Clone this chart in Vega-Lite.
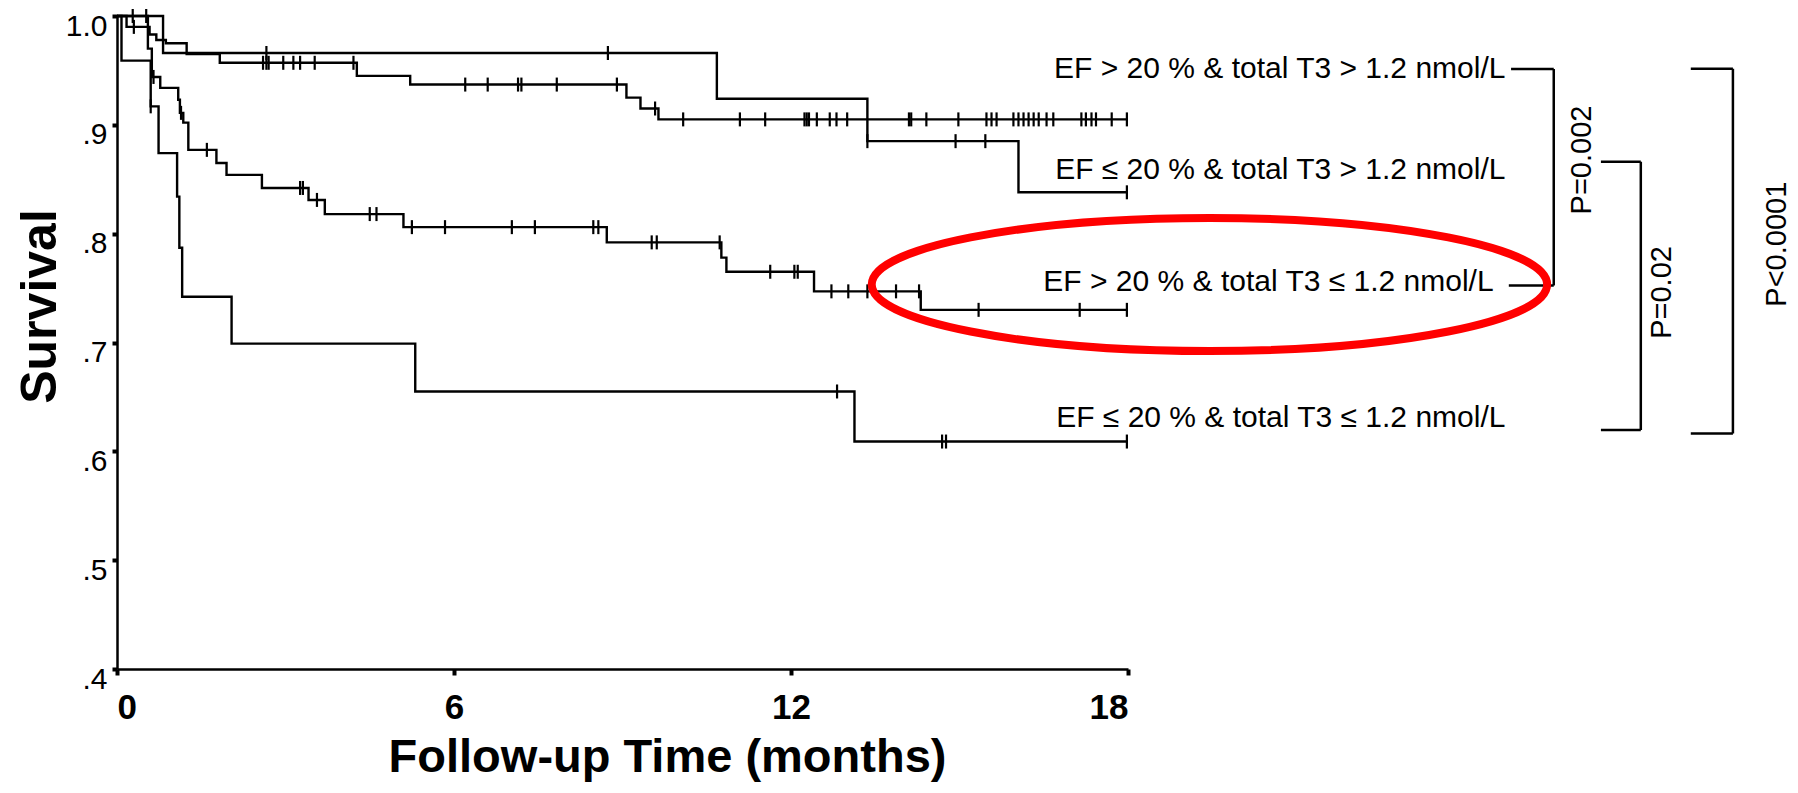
{
  "$schema": "https://vega.github.io/schema/vega-lite/v6.json",
  "width": 1011,
  "height": 653,
  "autosize": {"type": "none"},
  "padding": {"left": 117, "top": 16, "right": 670, "bottom": 124},
  "background": "white",
  "config": {
    "view": {"stroke": null},
    "font": "Liberation Sans",
    "axis": {"grid": false, "domainColor": "black", "tickColor": "black", "labelColor": "black", "titleColor": "black", "labelFont": "Liberation Sans", "titleFont": "Liberation Sans"}
  },
  "datasets": {
    "curves": [
      {"g": "A", "t": 0, "s": 1.0}, {"g": "A", "t": 0.17, "s": 0.99}, {"g": "A", "t": 0.58, "s": 0.983}, {"g": "A", "t": 0.7, "s": 0.978}, {"g": "A", "t": 0.87, "s": 0.975}, {"g": "A", "t": 1.24, "s": 0.965}, {"g": "A", "t": 1.83, "s": 0.957}, {"g": "A", "t": 4.27, "s": 0.945}, {"g": "A", "t": 5.22, "s": 0.937}, {"g": "A", "t": 9.07, "s": 0.925}, {"g": "A", "t": 9.32, "s": 0.915}, {"g": "A", "t": 9.64, "s": 0.905}, {"g": "A", "t": 18, "s": 0.905},
      {"g": "B", "t": 0, "s": 1.0}, {"g": "B", "t": 0.82, "s": 0.966}, {"g": "B", "t": 10.68, "s": 0.924}, {"g": "B", "t": 13.36, "s": 0.885}, {"g": "B", "t": 16.05, "s": 0.838}, {"g": "B", "t": 18, "s": 0.838},
      {"g": "C", "t": 0, "s": 1.0}, {"g": "C", "t": 0.55, "s": 0.97}, {"g": "C", "t": 0.62, "s": 0.944}, {"g": "C", "t": 0.77, "s": 0.934}, {"g": "C", "t": 1.09, "s": 0.923}, {"g": "C", "t": 1.12, "s": 0.911}, {"g": "C", "t": 1.18, "s": 0.902}, {"g": "C", "t": 1.27, "s": 0.877}, {"g": "C", "t": 1.77, "s": 0.865}, {"g": "C", "t": 1.95, "s": 0.854}, {"g": "C", "t": 2.58, "s": 0.842}, {"g": "C", "t": 3.41, "s": 0.831}, {"g": "C", "t": 3.7, "s": 0.818}, {"g": "C", "t": 5.1, "s": 0.806}, {"g": "C", "t": 8.72, "s": 0.792}, {"g": "C", "t": 10.76, "s": 0.778}, {"g": "C", "t": 10.85, "s": 0.765}, {"g": "C", "t": 12.41, "s": 0.747}, {"g": "C", "t": 14.31, "s": 0.73}, {"g": "C", "t": 18, "s": 0.73},
      {"g": "D", "t": 0, "s": 1.0}, {"g": "D", "t": 0.08, "s": 0.959}, {"g": "D", "t": 0.6, "s": 0.917}, {"g": "D", "t": 0.74, "s": 0.874}, {"g": "D", "t": 1.07, "s": 0.834}, {"g": "D", "t": 1.11, "s": 0.787}, {"g": "D", "t": 1.16, "s": 0.742}, {"g": "D", "t": 2.04, "s": 0.699}, {"g": "D", "t": 5.31, "s": 0.655}, {"g": "D", "t": 13.13, "s": 0.609}, {"g": "D", "t": 18, "s": 0.609}
    ],
    "censors": [
      {"g": "B", "t": 0.28, "s": 1.0}, {"g": "B", "t": 0.52, "s": 1.0}, {"g": "B", "t": 2.66, "s": 0.966}, {"g": "B", "t": 8.74, "s": 0.966}, {"g": "B", "t": 13.36, "s": 0.885}, {"g": "B", "t": 14.93, "s": 0.885}, {"g": "B", "t": 15.46, "s": 0.885}, {"g": "B", "t": 17.98, "s": 0.838},
      {"g": "A", "t": 0.3, "s": 0.99}, {"g": "A", "t": 2.6, "s": 0.957}, {"g": "A", "t": 2.66, "s": 0.957}, {"g": "A", "t": 2.7, "s": 0.957}, {"g": "A", "t": 2.96, "s": 0.957}, {"g": "A", "t": 3.14, "s": 0.957}, {"g": "A", "t": 3.26, "s": 0.957}, {"g": "A", "t": 3.52, "s": 0.957}, {"g": "A", "t": 4.21, "s": 0.957}, {"g": "A", "t": 6.2, "s": 0.937}, {"g": "A", "t": 6.6, "s": 0.937}, {"g": "A", "t": 7.14, "s": 0.937}, {"g": "A", "t": 7.2, "s": 0.937}, {"g": "A", "t": 7.83, "s": 0.937}, {"g": "A", "t": 8.9, "s": 0.937}, {"g": "A", "t": 9.58, "s": 0.915}, {"g": "A", "t": 10.08, "s": 0.905}, {"g": "A", "t": 11.09, "s": 0.905}, {"g": "A", "t": 11.54, "s": 0.905}, {"g": "A", "t": 12.24, "s": 0.905}, {"g": "A", "t": 12.28, "s": 0.905}, {"g": "A", "t": 12.32, "s": 0.905}, {"g": "A", "t": 12.46, "s": 0.905}, {"g": "A", "t": 12.69, "s": 0.905}, {"g": "A", "t": 12.81, "s": 0.905}, {"g": "A", "t": 13.0, "s": 0.905}, {"g": "A", "t": 14.1, "s": 0.905}, {"g": "A", "t": 14.14, "s": 0.905}, {"g": "A", "t": 14.41, "s": 0.905}, {"g": "A", "t": 14.98, "s": 0.905}, {"g": "A", "t": 15.48, "s": 0.905}, {"g": "A", "t": 15.57, "s": 0.905}, {"g": "A", "t": 15.66, "s": 0.905}, {"g": "A", "t": 15.96, "s": 0.905}, {"g": "A", "t": 16.05, "s": 0.905}, {"g": "A", "t": 16.14, "s": 0.905}, {"g": "A", "t": 16.23, "s": 0.905}, {"g": "A", "t": 16.32, "s": 0.905}, {"g": "A", "t": 16.41, "s": 0.905}, {"g": "A", "t": 16.55, "s": 0.905}, {"g": "A", "t": 16.67, "s": 0.905}, {"g": "A", "t": 17.17, "s": 0.905}, {"g": "A", "t": 17.25, "s": 0.905}, {"g": "A", "t": 17.35, "s": 0.905}, {"g": "A", "t": 17.43, "s": 0.905}, {"g": "A", "t": 17.71, "s": 0.905}, {"g": "A", "t": 17.98, "s": 0.905},
      {"g": "C", "t": 0.65, "s": 0.944}, {"g": "C", "t": 1.14, "s": 0.911}, {"g": "C", "t": 1.6, "s": 0.877}, {"g": "C", "t": 3.26, "s": 0.842}, {"g": "C", "t": 3.31, "s": 0.842}, {"g": "C", "t": 3.56, "s": 0.831}, {"g": "C", "t": 4.5, "s": 0.818}, {"g": "C", "t": 4.62, "s": 0.818}, {"g": "C", "t": 5.25, "s": 0.806}, {"g": "C", "t": 5.84, "s": 0.806}, {"g": "C", "t": 7.03, "s": 0.806}, {"g": "C", "t": 7.44, "s": 0.806}, {"g": "C", "t": 8.48, "s": 0.806}, {"g": "C", "t": 8.57, "s": 0.806}, {"g": "C", "t": 9.52, "s": 0.792}, {"g": "C", "t": 9.61, "s": 0.792}, {"g": "C", "t": 10.73, "s": 0.792}, {"g": "C", "t": 11.63, "s": 0.765}, {"g": "C", "t": 12.06, "s": 0.765}, {"g": "C", "t": 12.12, "s": 0.765}, {"g": "C", "t": 12.72, "s": 0.747}, {"g": "C", "t": 13.02, "s": 0.747}, {"g": "C", "t": 13.36, "s": 0.747}, {"g": "C", "t": 13.87, "s": 0.747}, {"g": "C", "t": 14.28, "s": 0.747}, {"g": "C", "t": 15.34, "s": 0.73}, {"g": "C", "t": 17.14, "s": 0.73}, {"g": "C", "t": 17.98, "s": 0.73},
      {"g": "D", "t": 0.6, "s": 0.917}, {"g": "D", "t": 12.82, "s": 0.655}, {"g": "D", "t": 14.69, "s": 0.609}, {"g": "D", "t": 14.76, "s": 0.609}, {"g": "D", "t": 17.98, "s": 0.609}
    ],
    "labels": [
      {"label": "EF > 20 % & total T3 > 1.2 nmol/L", "t": 24.72, "s": 0.9515},
      {"label": "EF ≤ 20 % & total T3 > 1.2 nmol/L", "t": 24.72, "s": 0.8588},
      {"label": "EF > 20 % & total T3 ≤ 1.2 nmol/L", "t": 24.51, "s": 0.7556},
      {"label": "EF ≤ 20 % & total T3 ≤ 1.2 nmol/L", "t": 24.72, "s": 0.6302}
    ],
    "brackets": [
      {"t": 24.82, "s": 0.9513, "t2": 25.58, "s2": 0.9513},
      {"t": 25.58, "s": 0.9513, "t2": 25.58, "s2": 0.7524},
      {"t": 24.78, "s": 0.7524, "t2": 25.58, "s2": 0.7524},
      {"t": 26.42, "s": 0.8661, "t2": 27.13, "s2": 0.8661},
      {"t": 27.13, "s": 0.8661, "t2": 27.13, "s2": 0.6196},
      {"t": 26.42, "s": 0.6196, "t2": 27.13, "s2": 0.6196},
      {"t": 28.02, "s": 0.9515, "t2": 28.77, "s2": 0.9515},
      {"t": 28.77, "s": 0.9515, "t2": 28.77, "s2": 0.6165},
      {"t": 28.02, "s": 0.6165, "t2": 28.77, "s2": 0.6165}
    ],
    "plabels": [
      {"label": "P=0.002", "t": 26.08, "s": 0.8677},
      {"label": "P=0.02", "t": 27.5, "s": 0.746},
      {"label": "P<0.0001", "t": 29.55, "s": 0.7903}
    ],
    "highlight": [
      {"t": 19.45, "s": 0.7533}
    ]
  },
  "encoding": {
    "x": {
      "field": "t", "type": "quantitative",
      "scale": {"domain": [0, 18], "nice": false, "zero": false},
      "axis": {
        "values": [0, 6, 12, 18], "format": "d",
        "domainWidth": 2.5, "tickWidth": 4, "tickSize": 6,
        "labelFontSize": 35, "labelFontWeight": "bold", "labelPadding": 15, "labelBaseline": "top",
        "title": "Follow-up Time (months)", "titleFontSize": 47, "titleFontWeight": "bold",
        "titleX": 550, "titleY": 102, "titleAlign": "center", "titleBaseline": "alphabetic", "titleAnchor": null
      }
    },
    "y": {
      "field": "s", "type": "quantitative",
      "scale": {"domain": [0.4, 1.0], "nice": false, "zero": false},
      "axis": {
        "values": [0.4, 0.5, 0.6, 0.7, 0.8, 0.9, 1.0],
        "labelExpr": "datum.value >= 0.999 ? '1.0' : slice(format(datum.value, '.1f'), 1)",
        "domainWidth": 2.5, "tickWidth": 4, "tickSize": 5,
        "labelFontSize": 30, "labelFontWeight": "normal", "labelPadding": 5, "labelOffset": 10, "labelBaseline": "middle",
        "title": "Survival", "titleFontSize": 50, "titleFontWeight": "bold",
        "titleX": -77, "titleY": 290, "titleAngle": 270, "titleAlign": "center", "titleBaseline": "middle", "titleAnchor": null
      }
    }
  },
  "layer": [
    {
      "data": {"name": "curves"},
      "mark": {"type": "line", "interpolate": "step-after", "color": "black", "strokeWidth": 2.4},
      "encoding": {"detail": {"field": "g"}}
    },
    {
      "data": {"name": "censors"},
      "mark": {"type": "tick", "orient": "vertical", "color": "black", "size": 14, "thickness": 2.2, "opacity": 1}
    },
    {
      "data": {"name": "brackets"},
      "mark": {"type": "rule", "color": "black", "strokeWidth": 2.5},
      "encoding": {"x2": {"field": "t2"}, "y2": {"field": "s2"}}
    },
    {
      "data": {"name": "labels"},
      "mark": {"type": "text", "align": "right", "baseline": "middle", "fontSize": 30, "font": "Liberation Sans", "color": "black"},
      "encoding": {"text": {"field": "label"}}
    },
    {
      "data": {"name": "plabels"},
      "mark": {"type": "text", "align": "center", "baseline": "middle", "angle": 270, "fontSize": 29, "font": "Liberation Sans", "color": "black"},
      "encoding": {"text": {"field": "label"}}
    },
    {
      "data": {"name": "highlight"},
      "mark": {"type": "point", "shape": "M-1,0A1,0.197,0,1,0,1,0A1,0.197,0,1,0,-1,0Z", "size": 456165, "filled": false, "stroke": "#ff0000", "strokeWidth": 8, "opacity": 1}
    }
  ]
}
